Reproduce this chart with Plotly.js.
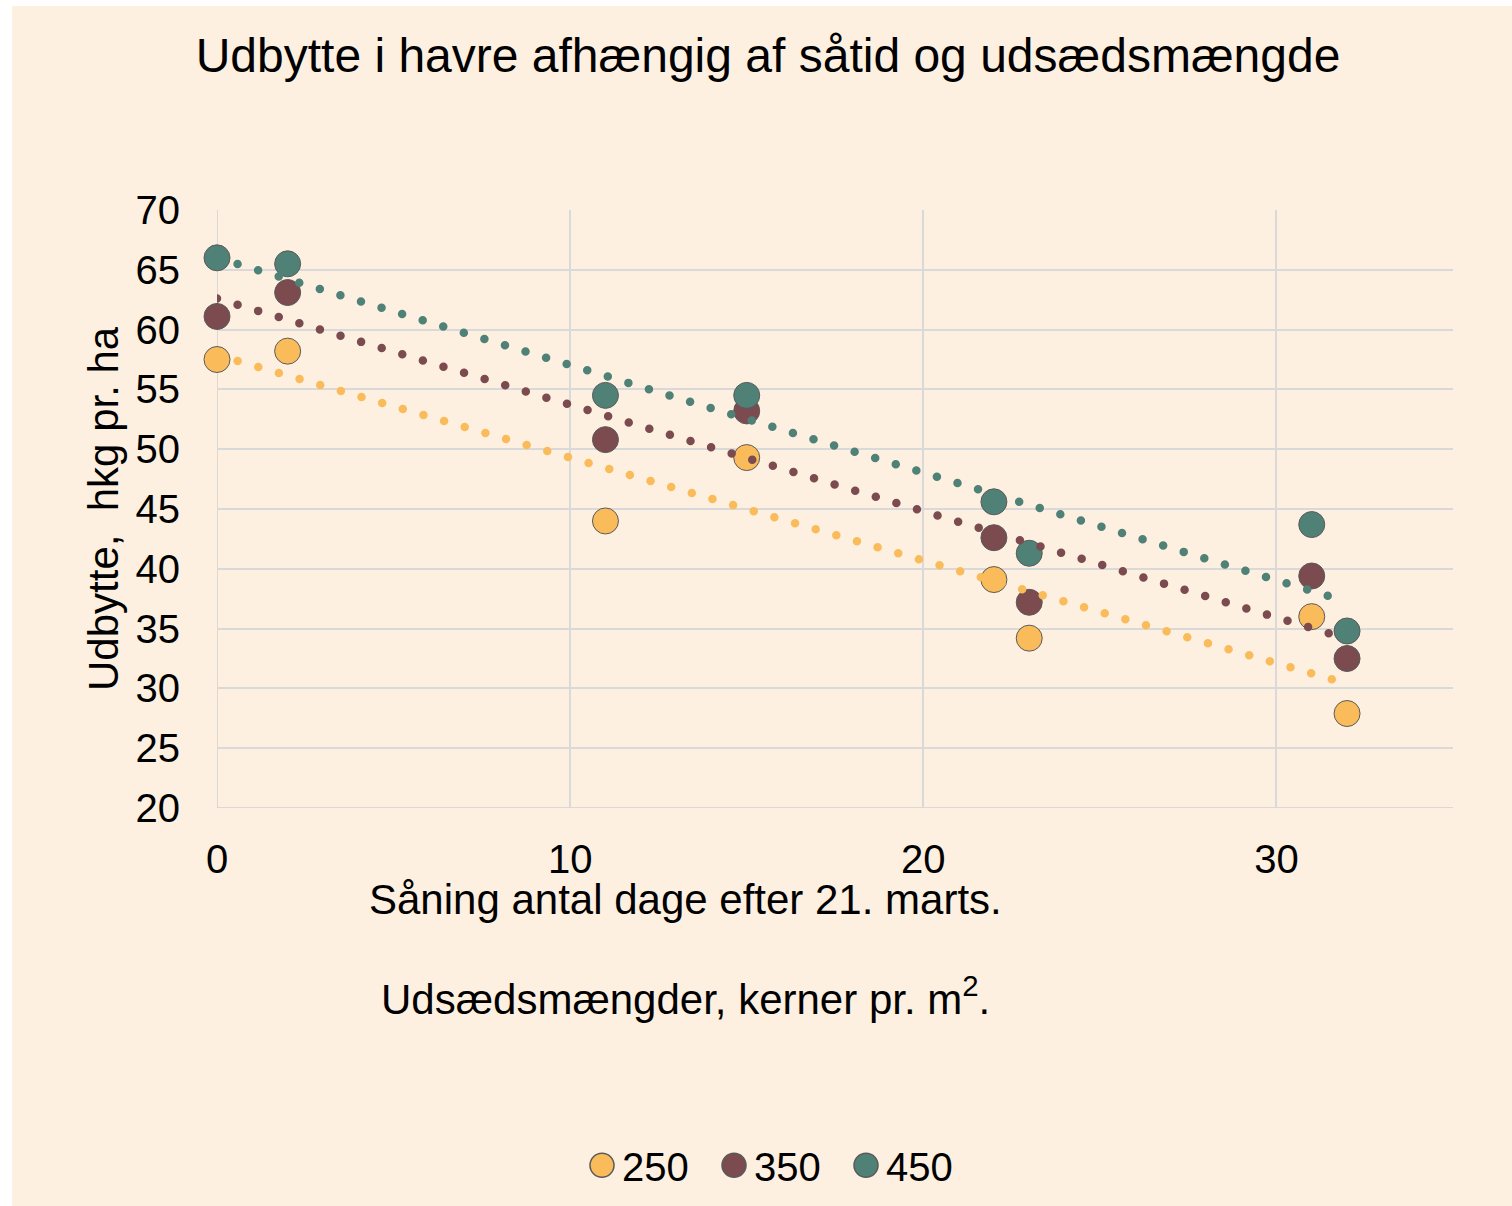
<!DOCTYPE html>
<html>
<head>
<meta charset="utf-8">
<script src="https://cdn.plot.ly/plotly-3.0.1.min.js"></script>
<style>
  html, body { margin: 0; padding: 0; background: #ffffff; }
  #chart { position: absolute; left: 12px; top: 6px; width: 1500px; height: 1200px; }
</style>
</head>
<body>
<div id="chart"></div>
<script>
// Days after 21 March
const days = [0, 2, 11, 15, 22, 23, 31, 32];
// Yield (hkg/ha) per seed rate (kernels per m2)
const yield250 = [57.5, 58.2, 44.0, 49.3, 39.1, 34.2, 36.0, 27.9];
const yield350 = [61.1, 63.1, 50.8, 53.2, 42.6, 37.2, 39.4, 32.5];
const yield450 = [66.0, 65.5, 54.5, 54.5, 45.6, 41.3, 43.7, 34.8];
const seriesNames = ['250', '350', '450'];
const colors = ['#FABC5B', '#7B4B4F', '#4F8177'];
const xTicks = [0, 10, 20, 30];
const yTicks = [20, 25, 30, 35, 40, 45, 50, 55, 60, 65, 70];

const FONT = 'Liberation Sans, Arial, Helvetica, sans-serif';
const allY = [yield250, yield350, yield450];

function linFit(xs, ys) {
  const n = xs.length;
  const mx = xs.reduce((a, b) => a + b, 0) / n;
  const my = ys.reduce((a, b) => a + b, 0) / n;
  let sxx = 0, sxy = 0;
  for (let i = 0; i < n; i++) { sxx += (xs[i] - mx) ** 2; sxy += (xs[i] - mx) * (ys[i] - my); }
  const b = sxy / sxx;
  const a = my - b * mx;
  const x0 = Math.min(...xs), x1 = Math.max(...xs);
  return { x: [x0, x1], y: [a + b * x0, a + b * x1] };
}

const traces = [];
allY.forEach((ys, i) => {
  traces.push({
    type: 'scatter', mode: 'markers', name: seriesNames[i],
    x: days, y: ys, cliponaxis: false,
    marker: { size: 26, color: colors[i], line: { color: '#5a5a5a', width: 1 } },
    hoverinfo: 'x+y'
  });
});
allY.forEach((ys, i) => {
  const f = linFit(days, ys);
  traces.push({
    type: 'scatter', mode: 'lines', showlegend: false,
    x: f.x, y: f.y, cliponaxis: false,
    line: { color: colors[i], width: 8.5, dash: '0px,21.5px' },
    hoverinfo: 'skip'
  });
});

const PL = 205, PW = 1236;
const layout = {
  width: 1500, height: 1200,
  paper_bgcolor: '#FDF0E0', plot_bgcolor: '#FDF0E0',
  margin: { l: 205, r: 59, t: 204, b: 398 },
  font: { family: FONT, color: '#000000', size: 40 },
  title: {
    text: 'Udbytte i havre afhængig af såtid og udsædsmængde',
    font: { family: FONT, size: 48, color: '#000000' },
    xref: 'container', x: 0.504, xanchor: 'center',
    yref: 'container', y: 0.959, yanchor: 'middle'
  },
  xaxis: {
    range: [0, 35], tickvals: xTicks, ticktext: xTicks.map(String),
    showgrid: true, gridcolor: '#D9D9D9', gridwidth: 1.5,
    zeroline: false, showline: false, ticks: '',
    tickfont: { family: FONT, size: 40 }, ticklabelstandoff: 24,
    fixedrange: true
  },
  yaxis: {
    range: [20, 70], tickvals: yTicks, ticktext: yTicks.map(String),
    showgrid: true, gridcolor: '#D9D9D9', gridwidth: 1.5,
    zeroline: false, showline: false, ticks: '',
    tickfont: { family: FONT, size: 40 }, ticklabelstandoff: 36,
    fixedrange: true
  },
  shapes: [
    { type: 'line', xref: 'x', yref: 'paper', x0: 0, x1: 0, y0: 0, y1: 1, line: { color: '#D0D0D0', width: 1.5 }, layer: 'below' },
    { type: 'line', xref: 'paper', yref: 'y', x0: 0, x1: 1, y0: 20, y1: 20, line: { color: '#D0D0D0', width: 1.5 }, layer: 'below' }
  ],
  annotations: [
    { text: 'Udbytte,  hkg pr. ha', textangle: -90, xref: 'paper', yref: 'paper',
      x: (103 - 217) / PW, y: 0.5, xanchor: 'center', yanchor: 'middle', showarrow: false,
      font: { family: FONT, size: 42 } },
    { text: 'Såning antal dage efter 21. marts.', xref: 'paper', yref: 'paper',
      x: (685.5 - 217) / PW, y: -(900 - 808) / 598, xanchor: 'center', yanchor: 'middle', showarrow: false,
      font: { family: FONT, size: 42 } },
    { text: 'Udsædsmængder, kerner pr. m<sup>2</sup>.', xref: 'paper', yref: 'paper',
      x: (685.5 - 217) / PW, y: -(996 - 808) / 598, xanchor: 'center', yanchor: 'middle', showarrow: false,
      font: { family: FONT, size: 42 } }
  ],
  legend: {
    orientation: 'h', xref: 'container', yref: 'container',
    x: 0.512, xanchor: 'center', y: 0.034, yanchor: 'middle',
    font: { family: FONT, size: 40 }, bgcolor: 'rgba(0,0,0,0)',
    entrywidth: 87, entrywidthmode: 'pixels',
    itemclick: false, itemdoubleclick: false
  },
  showlegend: true,
  hovermode: 'closest'
};

Plotly.newPlot('chart', traces, layout, { displayModeBar: false, staticPlot: false }).then(function (gd) {
  function fix() {
    gd.querySelectorAll('.scatterlayer .trace path.js-line').forEach(function (p) {
      p.style.strokeLinecap = 'round';
    });
    gd.querySelectorAll('.legend .traces .legendpoints path.scatterpts').forEach(function (p) {
      p.setAttribute('transform', (p.getAttribute('transform') || '') + ' scale(1.5)');
    });
  }
  fix();
});
</script>
</body>
</html>
